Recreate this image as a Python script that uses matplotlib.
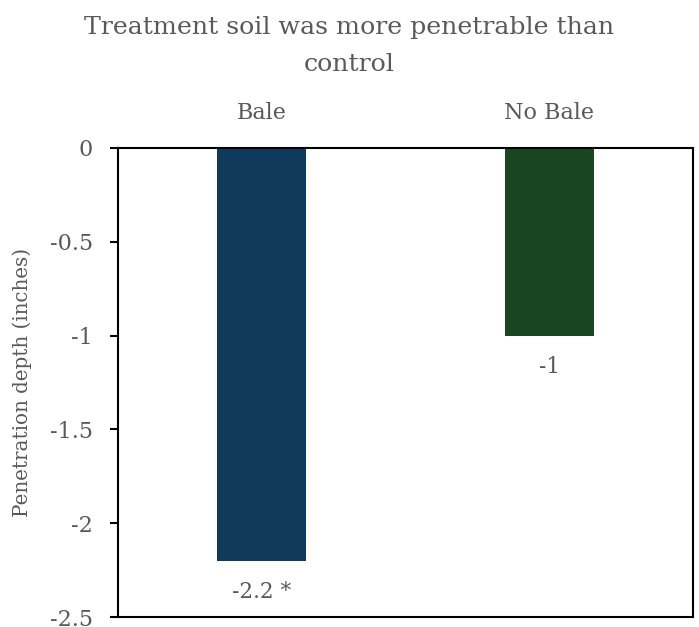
import matplotlib.pyplot as plt
import numpy as np

# data
categories = ["Bale", "No Bale"]
depths = [-2.2, -1.0]
bar_labels = ["-2.2 *", "-1"]
colors = ["#0F3A5C", "#1A4522"]
yticks = [0, -0.5, -1, -1.5, -2, -2.5]
ytick_labels = ["0", "-0.5", "-1", "-1.5", "-2", "-2.5"]

grey = "#595959"
plt.rcParams['font.family'] = ['DejaVu Serif']

fig = plt.figure(figsize=(6.99, 6.27), dpi=100)
ax = fig.add_axes([118/699, 1-617/627, (693-118)/699, (617-148)/627])

x = np.arange(len(categories))
bars = ax.bar(x, depths, width=0.31, color=colors)

ax.set_xlim(-0.5, 1.5)
ax.set_ylim(-2.5, 0)

# category labels on top
ax.xaxis.tick_top()
ax.set_xticks(x)
ax.set_xticklabels(categories, fontsize=16, color=grey)
ax.tick_params(axis='x', length=0, pad=17)

ax.set_yticks(yticks)
ax.set_yticklabels(ytick_labels, fontsize=16, color=grey)
ax.tick_params(axis='y', length=6, width=1.5, color='black', pad=12)

for s in ax.spines.values():
    s.set_linewidth(1.5)
    s.set_color('black')

# value labels under bars
for xi, d, lab in zip(x, depths, bar_labels):
    ax.annotate(lab, (xi, d), xytext=(0, -14.5), textcoords='offset points',
                ha='center', va='top', fontsize=15.5, color=grey)

ax.set_ylabel("Penetration depth (inches)", fontsize=14.3, color=grey, va='center')
ax.yaxis.set_label_coords(-(118-22)/575, 0.5)

fig.text(0.5, 1-16/627, "Treatment soil was more penetrable than\ncontrol",
         ha='center', va='top', fontsize=18.2, color=grey, linespacing=1.76)

fig.savefig("out.png", dpi=100)
